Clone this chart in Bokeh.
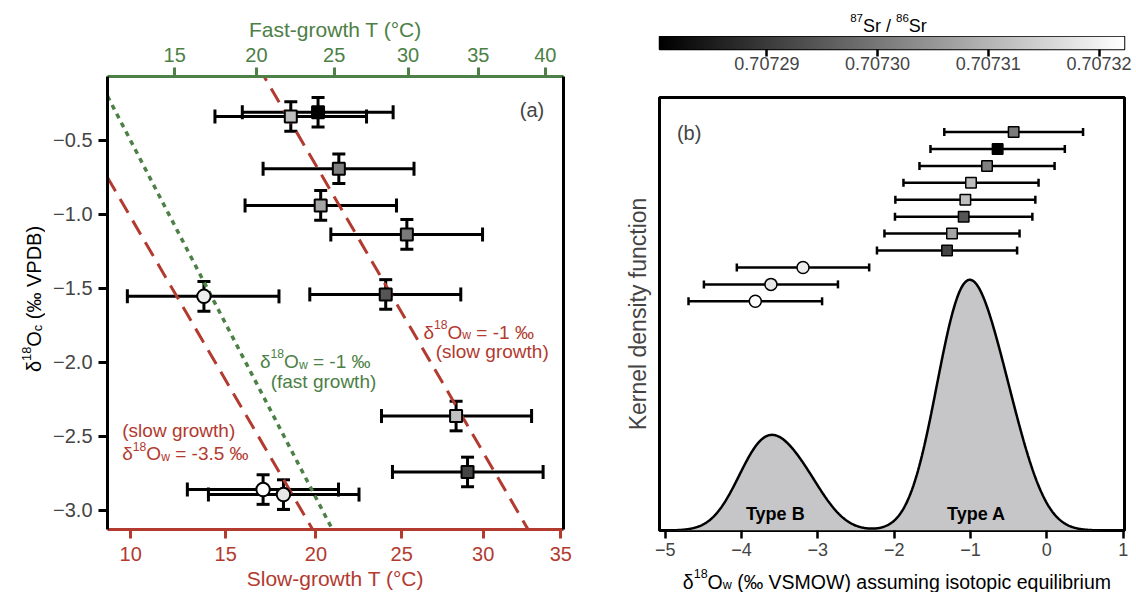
import math
import numpy as np
from bokeh.plotting import figure
from bokeh.models import (Range1d, LinearAxis, FixedTicker, CustomJSTickFormatter, Whisker, TeeHead,
                          ColumnDataSource, Label, LinearColorMapper, PrintfTickFormatter)
from bokeh.transform import linear_cmap
from bokeh.layouts import row, column
from bokeh.embed import file_html
from bokeh.resources import INLINE

# ---------------- data ----------------
growth_type = ["A", "A", "A", "A", "A", "B", "A", "A", "A", "B", "B"]
d18Oc = [-0.338, -0.309, -0.691, -0.939, -1.135, -1.554, -1.541, -2.363, -2.741, -2.860, -2.894]
d18Oc_err = [0.10, 0.10, 0.10, 0.10, 0.10, 0.10, 0.10, 0.10, 0.10, 0.10, 0.10]
T_slow = [18.58, 20.12, 21.31, 20.27, 25.31, 13.83, 24.05, 28.31, 29.02, 17.04, 18.17]
T_slow_lo = [14.42, 15.90, 17.04, 16.05, 20.85, 9.83, 19.65, 23.80, 24.45, 12.95, 14.07]
T_slow_hi = [22.92, 24.49, 25.74, 24.69, 29.96, 17.92, 28.60, 33.09, 33.84, 21.29, 22.48]
sr_ratio = [0.7073114, 0.7072803, 0.7073014, 0.7073075, 0.7073004, 0.7073192,
            0.7072943, 0.7073119, 0.7072915, 0.7073223, 0.7073182]
d18Ow = [-0.994, -0.645, -0.784, -1.243, -0.435, -3.195, -1.090, -1.068, -1.308, -3.820, -3.615]
d18Ow_err = [0.885, 0.880, 0.885, 0.885, 0.909, 0.867, 0.900, 0.917, 0.918, 0.875, 0.878]

slow_T_ticks = [10, 15, 20, 25, 30, 35]
fast_T_ticks = [15, 20, 25, 30, 35, 40]
d18Oc_ticks = [-0.5, -1.0, -1.5, -2.0, -2.5, -3.0]
d18Ow_ticks = [-5, -4, -3, -2, -1, 0, 1]
sr_ticks = [0.70729, 0.70730, 0.70731, 0.70732]
slow_lines_d18Ow = [-1.0, -3.5]
fast_lines_d18Ow = [-1.0]

# calibrations (x coordinate = 1e6/T^2 of slow-growth scale)
SLOW_A, SLOW_B = 2.57, -29.574
FAST_A, FAST_B = 2.615, -31.570
FAST_TO_X_A, FAST_TO_X_B = 0.9061, 1.3612
KDE_BW = 0.33

T_LEFT, T_RIGHT = 8.82, 35.18
YA_LO, YA_HI = -3.13, -0.0676
XB_LO, XB_HI = -5.075, 1.017
SR_LOW, SR_HIGH = 0.7072803, 0.7073223

# ---------------- styles ----------------
FONT = "Liberation Sans"
RED = "#b23a2f"
GREEN = "#4c8046"
GRAYS = ["#%02x%02x%02x" % (i, i, i) for i in range(256)]

ARIAL = {' ': 278, '(': 333, ')': 333, '-': 333, '.': 278, '/': 278, '=': 584, '‰': 1000, '°': 400,
         'δ': 556, '−': 584, 'A': 667, 'B': 667, 'C': 722, 'D': 722, 'F': 611, 'K': 667, 'M': 833,
         'O': 778, 'P': 667, 'S': 667, 'T': 611, 'V': 667, 'W': 944, 'a': 556, 'b': 556, 'c': 500,
         'd': 556, 'e': 556, 'f': 278, 'g': 556, 'h': 556, 'i': 222, 'k': 500, 'l': 222, 'm': 833,
         'n': 556, 'o': 556, 'p': 556, 'q': 556, 'r': 333, 's': 500, 't': 278, 'u': 556, 'w': 722,
         'y': 500}
for _d in "0123456789":
    ARIAL[_d] = 556


def tw(s, fs):
    return sum(ARIAL.get(ch, 556) for ch in s) * fs / 1000.0


def rich_text(p, x, y, parts, fs, color, angle=0.0, align="left", dx=0.0, dy=0.0, **kw):
    small = fs * 0.64
    sizes = [fs if k == "n" else small for _, k in parts]
    widths = [tw(t, s) for (t, _), s in zip(parts, sizes)]
    total = sum(widths)
    d = {"left": 0.0, "center": -total / 2.0, "right": -total}[align]
    ca, sa = math.cos(angle), math.sin(angle)
    for (t, k), s, w in zip(parts, sizes, widths):
        lead = len(t) - len(t.lstrip(" "))
        dd = d + tw(" " * lead, s)
        shift = {"n": 0.0, "sup": 0.40 * fs, "sub": -0.17 * fs}[k]
        p.add_layout(Label(x=x, y=y, x_offset=dx + dd * ca - shift * sa, y_offset=dy + dd * sa + shift * ca,
                           text=t.strip(" "), angle=angle, text_font=FONT, text_font_size=f"{s:.1f}px",
                           text_color=color, text_align="left", text_baseline="alphabetic", **kw))
        d += w


def text_fig(frame_w, frame_h, left=0, right=0, top=0, bottom=0):
    f = figure(frame_width=frame_w, frame_height=frame_h, min_border_left=left, min_border_right=right,
               min_border_top=top, min_border_bottom=bottom,
               x_range=Range1d(0, frame_w), y_range=Range1d(0, frame_h),
               output_backend="svg", toolbar_location=None)
    f.axis.visible = False
    f.grid.visible = False
    f.outline_line_color = None
    f.background_fill_color = "white"
    f.border_fill_color = "white"
    return f


def ux(T):
    return 1e6 / (np.asarray(T, dtype=float) + 273.15) ** 2


# ---------------- panel (a) ----------------
pa = figure(frame_width=456, frame_height=453, min_border_left=62, min_border_right=16,
            min_border_top=76, min_border_bottom=66,
            x_range=Range1d(float(ux(T_LEFT)), float(ux(T_RIGHT))), y_range=Range1d(YA_LO, YA_HI),
            output_backend="svg", toolbar_location=None)
pa.outline_line_color = None
pa.grid.visible = False
pa.background_fill_color = "white"
pa.border_fill_color = "white"

xa = pa.xaxis[0]
xa.ticker = FixedTicker(ticks=[float(v) for v in ux(slow_T_ticks)], minor_ticks=[])
xa.formatter = CustomJSTickFormatter(code="return Math.round(Math.sqrt(1e6 / tick) - 273.15).toString();")
xa.axis_line_color = RED
xa.axis_line_width = 3
xa.major_tick_line_color = RED
xa.major_tick_line_width = 3
xa.major_tick_out = 9
xa.major_tick_in = 0
xa.minor_tick_line_color = None
xa.major_label_text_color = RED
xa.major_label_text_font = FONT
xa.major_label_text_font_size = "20px"
xa.major_label_standoff = 8
xa.axis_label = "Slow-growth T (°C)"
xa.axis_label_text_color = RED
xa.axis_label_text_font = FONT
xa.axis_label_text_font_size = "21px"
xa.axis_label_text_font_style = "normal"
xa.axis_label_standoff = 3

fast_tick_pos = [float(v) for v in FAST_TO_X_A * ux(fast_T_ticks) + FAST_TO_X_B]
top = LinearAxis(ticker=FixedTicker(ticks=fast_tick_pos, minor_ticks=[]))
top.formatter = CustomJSTickFormatter(
    code=f"const v = (tick - {FAST_TO_X_B}) / {FAST_TO_X_A}; return Math.round(Math.sqrt(1e6 / v) - 273.15).toString();")
top.axis_line_color = GREEN
top.axis_line_width = 3
top.major_tick_line_color = GREEN
top.major_tick_line_width = 3
top.major_tick_out = 9
top.major_tick_in = 0
top.minor_tick_line_color = None
top.major_label_text_color = GREEN
top.major_label_text_font = FONT
top.major_label_text_font_size = "20px"
top.major_label_standoff = 6
top.axis_label = "Fast-growth T (°C)"
top.axis_label_text_color = GREEN
top.axis_label_text_font = FONT
top.axis_label_text_font_size = "21px"
top.axis_label_text_font_style = "normal"
top.axis_label_standoff = 4
pa.add_layout(top, "above")

right = LinearAxis(ticker=FixedTicker(ticks=[], minor_ticks=[]), axis_line_width=3, axis_line_color="black",
                   major_tick_line_color=None, minor_tick_line_color=None)
pa.add_layout(right, "right")

ya = pa.yaxis[0]
ya.ticker = FixedTicker(ticks=d18Oc_ticks, minor_ticks=[])
ya.formatter = CustomJSTickFormatter(code="return tick.toFixed(1).replace('-', '\u2212');")
ya.axis_line_width = 3
ya.axis_line_color = "black"
ya.major_tick_line_width = 3
ya.major_tick_out = 9
ya.major_tick_in = 0
ya.minor_tick_line_color = None
ya.major_label_text_font = FONT
ya.major_label_text_font_size = "20px"
ya.major_label_standoff = 6

# equilibrium lines
u_edges = np.array([ux(T_LEFT), ux(T_RIGHT)], dtype=float)
for dw in slow_lines_d18Ow:
    pa.line(u_edges, dw + SLOW_A * u_edges + SLOW_B, line_color=RED, line_width=3, line_dash="16 9")
v_edges = (u_edges - FAST_TO_X_B) / FAST_TO_X_A
for dw in fast_lines_d18Ow:
    pa.line(u_edges, dw + FAST_A * v_edges + FAST_B, line_color=GREEN, line_width=3.5, line_dash="5 5")

markers = ["square" if g == "A" else "circle" for g in growth_type]
src_a = ColumnDataSource(dict(
    u=ux(T_slow), u_lo=ux(T_slow_lo), u_hi=ux(T_slow_hi),
    y=d18Oc, y_lo=[a - b for a, b in zip(d18Oc, d18Oc_err)], y_hi=[a + b for a, b in zip(d18Oc, d18Oc_err)],
    sr=sr_ratio, marker=markers, size=[12 if m == "square" else 13.5 for m in markers]))

pa.add_layout(Whisker(source=src_a, base="y", lower="u_lo", upper="u_hi", dimension="width",
                      line_width=3, line_color="black",
                      lower_head=TeeHead(size=14, line_width=3), upper_head=TeeHead(size=14, line_width=3)))
pa.add_layout(Whisker(source=src_a, base="u", lower="y_lo", upper="y_hi", dimension="height",
                      line_width=3, line_color="black",
                      lower_head=TeeHead(size=13, line_width=3), upper_head=TeeHead(size=13, line_width=3)))
pa.scatter(x="u", y="y", marker="marker", size="size", source=src_a,
           fill_color=linear_cmap("sr", GRAYS, SR_LOW, SR_HIGH), line_color="black", line_width=2)

# annotations panel (a)
dw_parts = lambda val: [("δ", "n"), ("18", "sup"), ("O", "n"), ("w", "sub"), (f" = {val} ‰", "n")]
rich_text(pa, float(ux(26.31)), -1.795, dw_parts("-1"), 19, RED)
rich_text(pa, float(ux(27.06)), -1.929, [("(slow growth)", "n")], 19, RED)
rich_text(pa, float(ux(16.87)), -1.993, dw_parts("-1"), 19, GREEN)
rich_text(pa, float(ux(17.46)), -2.128, [("(fast growth)", "n")], 19, GREEN)
rich_text(pa, float(ux(9.57)), -2.459, [("(slow growth)", "n")], 19, RED)
rich_text(pa, float(ux(9.57)), -2.617, dw_parts("-3.5"), 19, RED)
pa.add_layout(Label(x=float(ux(33.91)), y=-0.297, text="(a)", text_font=FONT, text_font_size="20px",
                    text_align="right", text_baseline="alphabetic"))

# y-axis title of panel (a), drawn in its own strip (frame aligned with panel (a) frame)
ylab_a = text_fig(45, 453, top=76, bottom=66)
rich_text(ylab_a, 33.5, 453 / 2.0 + 4, [("δ", "n"), ("18", "sup"), ("O", "n"), ("c", "sub"), (" (‰ VPDB)", "n")],
          20, "black", angle=math.pi / 2, align="center")

# ---------------- panel (b) ----------------
grid = np.linspace(XB_LO, XB_HI, 800)
xs = np.asarray(d18Ow)
kde = np.exp(-0.5 * ((grid[:, None] - xs[None, :]) / KDE_BW) ** 2).sum(axis=1)
yb_top = kde.max() / 0.579

pb = figure(frame_width=465, frame_height=433, min_border_left=80, min_border_right=8,
            min_border_top=14, min_border_bottom=34,
            x_range=Range1d(XB_LO, XB_HI), y_range=Range1d(0, yb_top),
            output_backend="svg", toolbar_location=None)
pb.extra_y_ranges = {"rank": Range1d(-12.54, 13.04)}
pb.grid.visible = False
pb.outline_line_color = "black"
pb.outline_line_width = 3
pb.background_fill_color = "white"
pb.border_fill_color = "white"

xb = pb.xaxis[0]
xb.ticker = FixedTicker(ticks=d18Ow_ticks, minor_ticks=[])
xb.formatter = CustomJSTickFormatter(code="return tick.toFixed(0).replace('-', '\u2212');")
xb.axis_line_color = None
xb.major_tick_line_width = 2.5
xb.major_tick_out = 8
xb.major_tick_in = 0
xb.minor_tick_line_color = None
xb.major_label_text_font = FONT
xb.major_label_text_font_size = "18px"
xb.major_label_standoff = 4

yb = pb.yaxis[0]
yb.ticker = FixedTicker(ticks=[], minor_ticks=[])
yb.axis_line_color = None
yb.major_tick_line_color = None
yb.minor_tick_line_color = None
yb.axis_label = "Kernel density function"
yb.axis_label_text_font = FONT
yb.axis_label_text_font_size = "23px"
yb.axis_label_text_font_style = "normal"
yb.axis_label_standoff = 9

pb.varea(x=grid, y1=np.zeros_like(grid), y2=kde, fill_color="#c6c6c8")
pb.line(grid, kde, line_color="black", line_width=2.5)

rank = (np.argsort(np.argsort(xs)) + 1).astype(float)
src_b = ColumnDataSource(dict(
    x=d18Ow, lo=[a - b for a, b in zip(d18Ow, d18Ow_err)], hi=[a + b for a, b in zip(d18Ow, d18Ow_err)],
    rank=rank, sr=sr_ratio, marker=markers, size=[10.5 if m == "square" else 12 for m in markers]))
pb.add_layout(Whisker(source=src_b, base="rank", lower="lo", upper="hi", dimension="width",
                      line_width=2.5, line_color="black", y_range_name="rank",
                      lower_head=TeeHead(size=8, line_width=2.5), upper_head=TeeHead(size=8, line_width=2.5)))
pb.scatter(x="x", y="rank", marker="marker", size="size", source=src_b, y_range_name="rank",
           fill_color=linear_cmap("sr", GRAYS, SR_LOW, SR_HIGH), line_color="black", line_width=1.5)

pb.add_layout(Label(x=-4.847, y=yb_top, y_offset=-35, text="(b)", text_font=FONT, text_font_size="20px",
                    text_align="left", text_baseline="alphabetic"))
pb.add_layout(Label(x=-3.558, y=0, y_offset=17, text="Type B", text_font=FONT, text_font_size="18px",
                    text_font_style="bold", text_color="black", text_align="center", text_baseline="alphabetic"))
pb.add_layout(Label(x=-0.924, y=0, y_offset=17, text="Type A", text_font=FONT, text_font_size="18px",
                    text_font_style="bold", text_color="black", text_align="center", text_baseline="alphabetic"))

# x-axis title of panel (b), its own strip aligned with the panel (b) frame
xtitle_b = text_fig(465, 28, left=80, right=8)
rich_text(xtitle_b, 237.4, 11, [("δ", "n"), ("18", "sup"), ("O", "n"), ("w", "sub"),
                                (" (‰ VSMOW) assuming isotopic equilibrium", "n")],
          19.5, "black", align="center")

# ---------------- colour bar ----------------
mapper = LinearColorMapper(palette=GRAYS, low=SR_LOW, high=SR_HIGH)
pc = figure(frame_width=465, frame_height=13, min_border_left=80, min_border_right=8,
            min_border_top=0, min_border_bottom=34,
            x_range=Range1d(SR_LOW, SR_HIGH), y_range=Range1d(0, 1),
            output_backend="svg", toolbar_location=None)
pc.grid.visible = False
pc.yaxis.visible = False
pc.outline_line_color = "black"
pc.outline_line_width = 1.5
pc.background_fill_color = "white"
pc.border_fill_color = "white"
pc.image(image=[np.linspace(SR_LOW, SR_HIGH, 512).reshape(1, -1)], x=SR_LOW, y=0,
         dw=SR_HIGH - SR_LOW, dh=1, color_mapper=mapper)
xc = pc.xaxis[0]
xc.ticker = FixedTicker(ticks=sr_ticks, minor_ticks=[])
xc.formatter = PrintfTickFormatter(format="%.5f")
xc.axis_line_color = None
xc.major_tick_line_width = 2.5
xc.major_tick_out = 7
xc.major_tick_in = 0
xc.minor_tick_line_color = None
xc.major_label_text_font = FONT
xc.major_label_text_font_size = "18px"
xc.major_label_standoff = 0

cbtitle = text_fig(465, 36, left=80, right=8)
rich_text(cbtitle, 229.0, 11, [("87", "sup"), ("Sr / ", "n"), ("86", "sup"), ("Sr", "n")],
          18, "black", align="center")

layout = row(ylab_a, pa, column(cbtitle, pc, pb, xtitle_b))
open("out.html", "w").write(file_html(layout, INLINE))
